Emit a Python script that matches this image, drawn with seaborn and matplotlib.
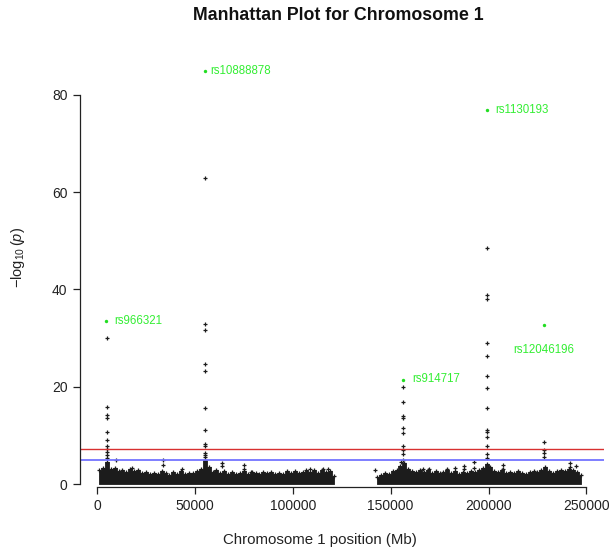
import matplotlib
matplotlib.use("Agg")
import matplotlib.pyplot as plt
import seaborn as sns
import pandas as pd

# ---- data -----------------------------------------------------------------
# Upper edge of the dense background of SNPs (-log10 p), in 2000 kb bins
floor_left_pos = [1000, 3000, 5000, 7000, 9000, 11000, 13000, 15000, 17000, 19000,
                  21000, 23000, 25000, 27000, 29000, 31000, 33000, 35000, 37000, 39000,
                  41000, 43000, 45000, 47000, 49000, 51000, 53000, 55000, 57000, 59000,
                  61000, 63000, 65000, 67000, 69000, 71000, 73000, 75000, 77000, 79000,
                  81000, 83000, 85000, 87000, 89000, 91000, 93000, 95000, 97000, 99000,
                  101000, 103000, 105000, 107000, 109000, 111000, 113000, 115000, 117000,
                  119000, 121000]
floor_left_top = [2.8, 3.4, 4.6, 3.0, 3.3, 2.7, 2.9, 2.4, 3.1, 2.6,
                  2.8, 2.2, 2.5, 2.0, 2.3, 2.1, 2.6, 2.2, 1.9, 2.4,
                  2.1, 2.7, 2.0, 2.3, 2.2, 2.6, 3.2, 4.9, 3.6, 2.5,
                  2.8, 2.3, 2.6, 2.1, 2.4, 2.0, 2.3, 2.6, 2.1, 2.4,
                  2.2, 2.0, 2.5, 2.2, 2.4, 2.1, 2.3, 2.0, 2.6, 2.3,
                  2.7, 2.2, 2.5, 2.9, 2.4, 2.8, 2.3, 2.9, 2.5, 2.7, 1.6]
floor_right_pos = [143000, 145000, 147000, 149000, 151000, 153000, 155000, 157000, 159000,
                   161000, 163000, 165000, 167000, 169000, 171000, 173000, 175000, 177000,
                   179000, 181000, 183000, 185000, 187000, 189000, 191000, 193000, 195000,
                   197000, 199000, 201000, 203000, 205000, 207000, 209000, 211000, 213000,
                   215000, 217000, 219000, 221000, 223000, 225000, 227000, 229000, 231000,
                   233000, 235000, 237000, 239000, 241000, 243000, 245000, 247000]
floor_right_top = [1.4, 1.9, 2.3, 2.0, 2.6, 2.9, 3.8, 4.3, 3.1,
                   2.7, 2.4, 2.8, 2.5, 2.9, 2.3, 2.6, 2.2, 2.5,
                   2.8, 2.3, 2.6, 2.1, 2.5, 2.3, 2.7, 2.4, 2.9,
                   3.3, 4.2, 3.6, 2.7, 2.4, 2.8, 2.3, 2.5, 2.2,
                   2.6, 2.3, 2.1, 2.5, 2.7, 2.4, 2.9, 3.6, 2.6,
                   2.3, 2.7, 2.9, 2.6, 3.0, 2.8, 2.5, 1.8]

# Isolated SNPs standing just above the background
bg_pos = [9500, 17700, 33900, 33900, 43300, 63700, 63700, 75100, 75100, 78700,
          108900, 115600, 118200, 142100, 155500, 166700, 169800, 178700, 182900,
          187500, 187500, 192600, 192600, 207600, 207600, 241400, 241400, 244800]
bg_val = [4.9, 3.4, 4.9, 3.9, 3.0, 4.4, 3.7, 3.9, 3.0, 2.5,
          3.2, 3.2, 3.2, 2.9, 4.6, 3.0, 3.0, 3.2, 3.4,
          3.7, 3.0, 4.5, 3.3, 4.0, 3.2, 4.4, 3.5, 3.7]

# SNPs in the five associated loci (black)
peak_pos = ([5000] * 11 + [55000] * 12 + [156300] * 10 + [199300] * 14 + [228300] * 4)
peak_val = ([30.1, 15.9, 14.2, 13.6, 10.8, 9.05, 7.9, 7.2, 6.5, 5.9, 5.4] +
            [62.9, 32.9, 31.7, 24.6, 23.3, 15.6, 11.2, 8.2, 7.9, 6.3, 6.0, 5.5] +
            [19.9, 16.9, 14.0, 13.5, 11.5, 10.6, 7.8, 7.0, 6.2, 4.9] +
            [48.6, 38.9, 38.0, 29.1, 26.3, 22.2, 19.7, 15.6, 11.2, 10.8, 9.7, 7.8, 6.1, 5.3] +
            [8.6, 7.0, 6.4, 5.6])

# Lead SNP of each locus (green, labelled)
lead_snp = ["rs966321", "rs10888878", "rs914717", "rs1130193", "rs12046196"]
lead_pos = [4400, 55000, 156300, 199300, 228300]
lead_val = [33.5, 84.9, 21.4, 76.9, 32.8]

suggestive_line = 5.0
genomewide_line = 7.3

x_ticks = [0, 50000, 100000, 150000, 200000, 250000]
y_ticks = [0, 20, 40, 60, 80]

# ---- figure -------------------------------------------------------------
sns.set_theme(style="white")
plt.rcParams["font.family"] = ["Liberation Sans", "DejaVu Sans"]
plt.rcParams["mathtext.fontset"] = "custom"
plt.rcParams["mathtext.rm"] = "Liberation Sans"
plt.rcParams["mathtext.it"] = "Liberation Sans:italic"

fig = plt.figure(figsize=(6.09, 5.54), dpi=100)
ax = fig.add_axes([80 / 609, 67 / 554, 524 / 609, 433 / 554])

ink = "#1c1c1c"

# dense background of non-significant SNPs: filled body plus the ragged top row
for pos, top in ((floor_left_pos, floor_left_top), (floor_right_pos, floor_right_top)):
    ax.fill_between(pos, 0, top, step="mid", color=ink, linewidth=0.6, edgecolor=ink)
    edge = pd.DataFrame({"pos": pos, "logp": top})
    sns.scatterplot(data=edge, x="pos", y="logp", ax=ax, color=ink, s=10,
                    marker="+", linewidth=0.9, legend=False)

pts = pd.DataFrame({"pos": bg_pos + peak_pos, "logp": bg_val + peak_val})
sns.scatterplot(data=pts, x="pos", y="logp", ax=ax, color=ink, s=9,
                marker="+", linewidth=0.9, legend=False)

lead = pd.DataFrame({"snp": lead_snp, "pos": lead_pos, "logp": lead_val})
sns.scatterplot(data=lead, x="pos", y="logp", ax=ax, color="#22dd22", s=6,
                marker="o", linewidth=0, legend=False)

ax.axhline(genomewide_line, color="#d83030", linewidth=1.0, zorder=1)
ax.axhline(suggestive_line, color="#7474ff", linewidth=1.3, zorder=1)

# labels next to each lead SNP (offsets in points)
label_offsets = {"rs966321": (6, 0, "left"), "rs10888878": (4, 0, "left"),
                 "rs914717": (7, 0.5, "left"), "rs1130193": (5.5, 0, "left"),
                 "rs12046196": (0, -18.5, "center")}
for snp, x, y in zip(lead_snp, lead_pos, lead_val):
    dx, dy, ha = label_offsets[snp]
    ax.annotate(snp, (x, y), xytext=(dx, dy), textcoords="offset points",
                ha=ha, va="center", fontsize=8.3, color="#33ee33")

ax.set_xlim(-8700, 259000)
ax.set_ylim(-0.6, 88.4)
ax.set_xticks(x_ticks)
ax.set_xticklabels([str(t) for t in x_ticks])
ax.set_yticks(y_ticks)
ax.set_yticklabels([str(t) for t in y_ticks])
ax.set_xlabel("")
ax.set_ylabel("")

for side in ("top", "right"):
    ax.spines[side].set_visible(False)
for side in ("left", "bottom"):
    ax.spines[side].set_color("#222222")
    ax.spines[side].set_linewidth(0.9)
ax.spines["left"].set_bounds(0, 80)
ax.spines["bottom"].set_bounds(0, 250000)
ax.tick_params(axis="both", which="major", direction="out", length=5, width=0.9,
               color="#222222", labelsize=10, labelcolor="#222222", pad=4,
               left=True, bottom=True)

fig.text(338 / 609, 1 - 15 / 554, "Manhattan Plot for Chromosome 1",
         ha="center", va="center", fontsize=12.8, fontweight="bold", color="#111111")
fig.text(320 / 609, 1 - 540 / 554, "Chromosome 1 position (Mb)",
         ha="center", va="center", fontsize=10.8, color="#222222")
fig.text(18 / 609, 1 - 258 / 554, r"$-\log_{10}(\mathit{p})$", rotation=90,
         ha="center", va="center", fontsize=10.5, color="#222222")

fig.savefig("out.png", dpi=100)
